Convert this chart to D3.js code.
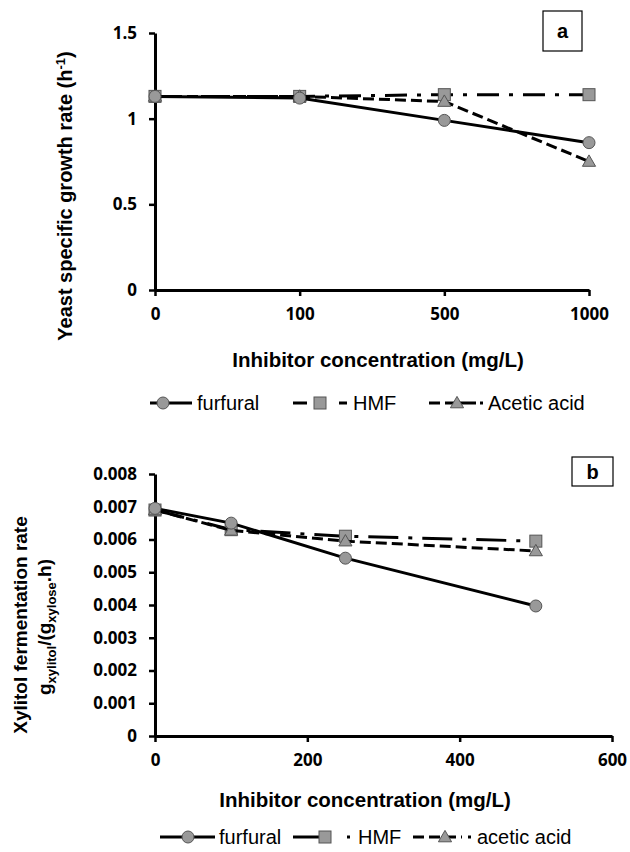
<!DOCTYPE html>
<html>
<head>
<meta charset="utf-8">
<script src="https://cdn.jsdelivr.net/npm/d3@7"></script>
<style>
  body { margin: 0; background: #fff; }
  .tick text { font-family: "Open Sans", Lato, sans-serif; font-weight: bold; font-size: 17px; fill: #000; }
</style>
</head>
<body>
<div id="chart"></div>
<script>
// panel a data
var catsA = ['0', '100', '500', '1000'];
var furfuralA = [1.13, 1.12, 0.99, 0.86];
var hmfA = [1.13, 1.13, 1.14, 1.14];
var aceticA = [1.13, 1.13, 1.10, 0.75];
var yTicksA = [0, 0.5, 1, 1.5];

// panel b data
var concB = [0, 100, 250, 500];
var furfuralB = [0.00695, 0.0065, 0.00543, 0.00397];
var hmfB = [0.0069, 0.0063, 0.0061, 0.00595];
var aceticB = [0.0069, 0.00628, 0.00595, 0.00565];
var xTicksB = [0, 200, 400, 600];
var yTicksB = [0, 0.001, 0.002, 0.003, 0.004, 0.005, 0.006, 0.007, 0.008];

var svg = d3.select('#chart').append('svg')
    .attr('width', 630)
    .attr('height', 852);

var sans = 'Liberation Sans, Arial, sans-serif';

function marker(g, type, x, y) {
    if (type == 'circle') {
        g.append('circle').attr('cx', x).attr('cy', y).attr('r', 6)
            .attr('fill', '#999').attr('stroke', '#555').attr('stroke-width', 1);
    } else if (type == 'square') {
        g.append('rect').attr('x', x - 6).attr('y', y - 6).attr('width', 12).attr('height', 12)
            .attr('fill', '#999').attr('stroke', '#555').attr('stroke-width', 1);
    } else {
        g.append('path').attr('d', d3.symbol().type(d3.symbolTriangle).size(75)())
            .attr('transform', 'translate(' + x + ',' + (y + 1) + ')')
            .attr('fill', '#999').attr('stroke', '#555').attr('stroke-width', 1);
    }
}

function drawSeries(g, xs, ys, dash, type) {
    var pts = xs.map(function(x, i) { return [x, ys[i]]; });
    g.append('path')
        .attr('d', d3.line()(pts))
        .attr('fill', 'none')
        .attr('stroke', '#000')
        .attr('stroke-width', 3)
        .attr('stroke-dasharray', dash);
    pts.forEach(function(p) { marker(g, type, p[0], p[1]); });
}

function styleAxis(g) {
    g.select('.domain').attr('stroke', '#000').attr('stroke-width', 3);
    g.selectAll('.tick line').attr('stroke', '#000').attr('stroke-width', 2.5);
}

function legend(items, y) {
    var lg = svg.append('g');
    items.forEach(function(it) {
        lg.append('line').attr('x1', it.x1).attr('x2', it.x2).attr('y1', y).attr('y2', y)
            .attr('stroke', '#000').attr('stroke-width', 3).attr('stroke-dasharray', it.dash);
        if (it.dot) {
            lg.append('line').attr('x1', it.dot).attr('x2', it.dot + 3).attr('y1', y).attr('y2', y)
                .attr('stroke', '#000').attr('stroke-width', 3);
        }
        marker(lg, it.type, it.m, y);
        lg.append('text').attr('x', it.tx).attr('y', y + 7)
            .style('font-family', sans).style('font-size', '20px')
            .text(it.label);
    });
}

function panelBox(x, y, w, h, label) {
    svg.append('rect').attr('x', x).attr('y', y).attr('width', w).attr('height', h)
        .attr('fill', '#fff').attr('stroke', '#000').attr('stroke-width', 1.2);
    svg.append('text').attr('x', x + w / 2).attr('y', y + h / 2 + 7)
        .attr('text-anchor', 'middle')
        .style('font-family', sans).style('font-weight', 'bold').style('font-size', '20px')
        .text(label);
}

// ---------- panel a ----------
var xA = d3.scalePoint().domain(catsA).range([155, 589]);
var yA = d3.scaleLinear().domain([0, 1.5]).range([290, 33]);

var gA = svg.append('g');
var axYA = gA.append('g').attr('transform', 'translate(155,0)')
    .call(d3.axisLeft(yA).tickValues(yTicksA).tickSize(6).tickPadding(12).tickSizeOuter(0)
        .tickFormat(function(d) { return d; }));
styleAxis(axYA);
var axXA = gA.append('g').attr('transform', 'translate(0,290)')
    .call(d3.axisBottom(xA).tickSize(6).tickPadding(12).tickSizeOuter(0));
styleAxis(axXA);

var pxA = catsA.map(function(c) { return xA(c); });
drawSeries(gA, pxA, hmfA.map(yA), '22,10,4,10', 'square');
drawSeries(gA, pxA, aceticA.map(yA), '11,5', 'triangle');
drawSeries(gA, pxA, furfuralA.map(yA), null, 'circle');

var ylA = svg.append('text')
    .attr('transform', 'translate(72,196) rotate(-90)')
    .attr('text-anchor', 'middle')
    .style('font-family', sans).style('font-weight', 'bold').style('font-size', '20px');
ylA.append('tspan').text('Yeast specific growth rate  (h');
ylA.append('tspan').attr('dy', -7).style('font-size', '13px').text('-1');
ylA.append('tspan').attr('dy', 7).text(')');

svg.append('text').attr('x', 378).attr('y', 367).attr('text-anchor', 'middle')
    .style('font-family', sans).style('font-weight', 'bold').style('font-size', '20.5px')
    .text('Inhibitor concentration (mg/L)');

panelBox(543, 11, 39, 40, 'a');

legend([
    { x1: 150, x2: 192, m: 163, tx: 197, dash: null, type: 'circle', label: 'furfural' },
    { x1: 293, x2: 347, m: 320, tx: 353, dash: '14,32,8,100', type: 'square', label: 'HMF' },
    { x1: 429, x2: 476, m: 457, tx: 488, dash: '11,5,31,100', dot: 480, type: 'triangle', label: 'Acetic acid' }
], 403);

// ---------- panel b ----------
var xB = d3.scaleLinear().domain([0, 600]).range([155, 612]);
var yB = d3.scaleLinear().domain([0, 0.008]).range([736, 474]);

var gB = svg.append('g');
var axYB = gB.append('g').attr('transform', 'translate(155,0)')
    .call(d3.axisLeft(yB).tickValues(yTicksB).tickSize(6).tickPadding(12).tickSizeOuter(0)
        .tickFormat(function(d) { return d == 0 ? '0' : d3.format('.3f')(d); }));
styleAxis(axYB);
var axXB = gB.append('g').attr('transform', 'translate(0,736)')
    .call(d3.axisBottom(xB).tickValues(xTicksB).tickSize(6).tickPadding(12).tickSizeOuter(0));
styleAxis(axXB);

var pxB = concB.map(xB);
drawSeries(gB, pxB, hmfB.map(yB), '30,10,4,10', 'square');
drawSeries(gB, pxB, aceticB.map(yB), '11,5', 'triangle');
drawSeries(gB, pxB, furfuralB.map(yB), null, 'circle');

svg.append('text')
    .attr('transform', 'translate(27,625) rotate(-90)')
    .attr('text-anchor', 'middle')
    .style('font-family', sans).style('font-weight', 'bold').style('font-size', '19px')
    .text('Xylitol fermentation rate');
var yl2 = svg.append('text')
    .attr('transform', 'translate(51,627) rotate(-90)')
    .attr('text-anchor', 'middle')
    .style('font-family', sans).style('font-weight', 'bold').style('font-size', '19px');
yl2.append('tspan').text('g');
yl2.append('tspan').attr('dy', 5).style('font-size', '13px').text('xylitol');
yl2.append('tspan').attr('dy', -5).text('/(g');
yl2.append('tspan').attr('dy', 5).style('font-size', '13px').text('xylose');
yl2.append('tspan').attr('dy', -5).text('.h)');

svg.append('text').attr('x', 365).attr('y', 807).attr('text-anchor', 'middle')
    .style('font-family', sans).style('font-weight', 'bold').style('font-size', '20.5px')
    .text('Inhibitor concentration (mg/L)');

panelBox(572, 457, 41, 29, 'b');

legend([
    { x1: 160, x2: 215, m: 188, tx: 219, dash: null, type: 'circle', label: 'furfural' },
    { x1: 293, x2: 322, m: 325, tx: 358, dash: null, dot: 347, type: 'square', label: 'HMF' },
    { x1: 413, x2: 462, m: 445, tx: 477, dash: '11,5', dot: 468, type: 'triangle', label: 'acetic acid' }
], 837);
</script>
</body>
</html>
